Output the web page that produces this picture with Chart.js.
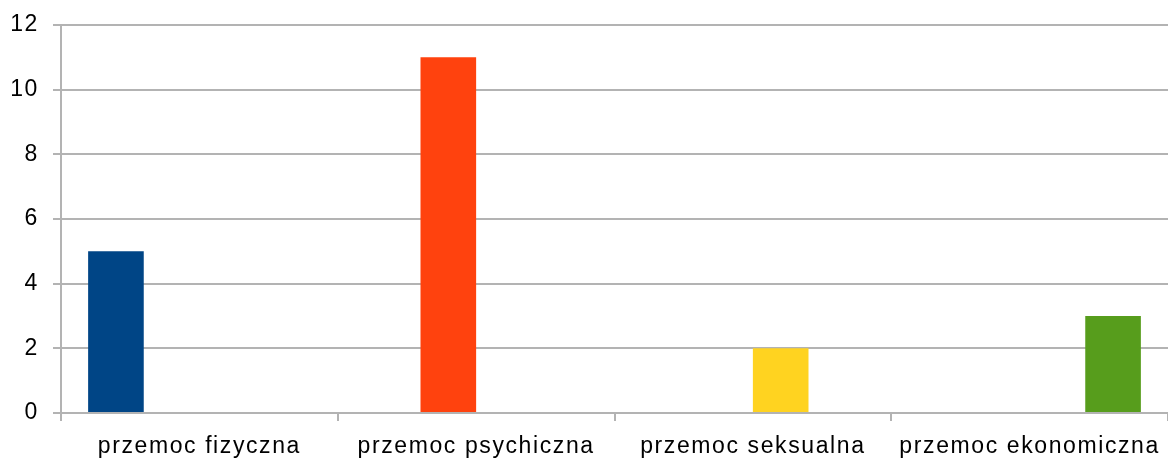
<!DOCTYPE html>
<html>
<head>
<meta charset="utf-8">
<script src="https://cdn.jsdelivr.net/npm/chart.js@4/dist/chart.umd.min.js"></script>
<style>
  html, body { margin: 0; padding: 0; background: #fff; }
  #wrap { width: 1168px; height: 460px; }
</style>
</head>
<body>
<div id="wrap"><canvas id="chart"></canvas></div>
<script>
const categories = ['przemoc fizyczna', 'przemoc psychiczna', 'przemoc seksualna', 'przemoc ekonomiczna'];
const fizyczna = [5, null, null, null];
const psychiczna = [null, 11, null, null];
const seksualna = [null, null, 2, null];
const ekonomiczna = [null, null, null, 3];
const yTicks = [0, 2, 4, 6, 8, 10, 12];

const gridGray = '#b3b3b3';

// stretch the text a bit, the original font is wider than Liberation Sans
const spacing = {
    id: 'spacing',
    beforeDraw(chart) {
        chart.ctx.letterSpacing = '1.6px';
    }
};

function series(label, data, color) {
    return { label, data, backgroundColor: color, borderWidth: 0 };
}

const chart = new Chart(document.getElementById('chart'), {
    type: 'bar',
    data: {
        labels: categories,
        datasets: [
            series('przemoc fizyczna', fizyczna, '#004586'),
            series('przemoc psychiczna', psychiczna, '#ff420e'),
            series('przemoc seksualna', seksualna, '#ffd320'),
            series('przemoc ekonomiczna', ekonomiczna, '#579d1c'),
        ]
    },
    plugins: [spacing],
    options: {
        responsive: true,
        maintainAspectRatio: false,
        animation: false,
        categoryPercentage: 0.804,
        barPercentage: 1,
        layout: { padding: { top: 25, right: 0, bottom: 0, left: 0 } },
        plugins: {
            legend: { display: false },
            tooltip: { enabled: false }
        },
        scales: {
            x: {
                grid: {
                    offset: true,
                    drawOnChartArea: false,
                    color: gridGray,
                    lineWidth: 2,
                    tickLength: 8
                },
                border: { color: gridGray, width: 2 },
                ticks: {
                    color: '#000',
                    padding: 12,
                    maxRotation: 0,
                    autoSkip: false,
                    font: { family: '"Liberation Sans", Arial, sans-serif', size: 23 }
                },
                afterFit(scale) {
                    scale.height = 47;
                    scale.paddingLeft = 0;
                    scale.paddingRight = 0;
                }
            },
            y: {
                min: 0,
                max: 12,
                afterBuildTicks(scale) {
                    scale.ticks = yTicks.map(v => ({ value: v }));
                },
                grid: {
                    color: gridGray,
                    lineWidth: 2,
                    tickLength: 8
                },
                border: { color: gridGray, width: 2 },
                ticks: {
                    color: '#000',
                    padding: 14,
                    font: { family: '"Liberation Sans", Arial, sans-serif', size: 23 }
                },
                afterFit(scale) {
                    scale.width = 61;
                    scale.paddingTop = 0;
                    scale.paddingBottom = 0;
                }
            }
        }
    }
});
</script>
</body>
</html>
